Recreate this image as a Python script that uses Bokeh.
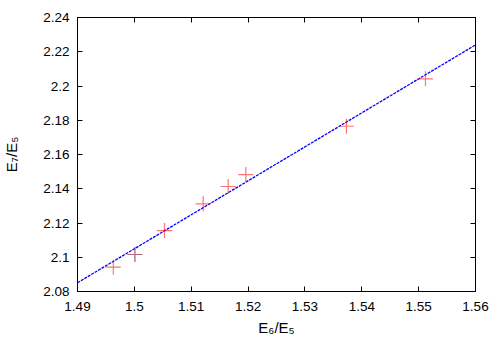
from bokeh.plotting import figure
from bokeh.models import LinearAxis, FixedTicker, Range1d
from bokeh.embed import file_html
from bokeh.resources import INLINE

# data
ratio65 = [1.4963, 1.5001, 1.5053, 1.5121, 1.5165, 1.5196, 1.5373, 1.5512]
ratio75 = [2.0942, 2.1016, 2.1156, 2.1312, 2.1413, 2.1483, 2.1765, 2.2042]
extra_x = [1.5001]
extra_y = [2.1016]
fit_x = [1.49, 1.56]
fit_y = [2.0851, 2.2240]

x_ticks = [1.49, 1.50, 1.51, 1.52, 1.53, 1.54, 1.55, 1.56]
x_tick_labels = ["1.49", "1.5", "1.51", "1.52", "1.53", "1.54", "1.55", "1.56"]
y_ticks = [2.08, 2.10, 2.12, 2.14, 2.16, 2.18, 2.20, 2.22, 2.24]
y_tick_labels = ["2.08", "2.1", "2.12", "2.14", "2.16", "2.18", "2.2", "2.22", "2.24"]

FONT = "Liberation Sans"

p = figure(
    output_backend="svg", toolbar_location=None,
    frame_width=398, frame_height=274,
    min_border_left=76, min_border_right=24, min_border_top=17, min_border_bottom=57,
    x_range=Range1d(1.49, 1.56), y_range=Range1d(2.08, 2.24),
    x_axis_label="E₆/E₅", y_axis_label="E₇/E₅",
)
p.grid.visible = False
p.outline_line_color = "black"
p.outline_line_width = 1
p.background_fill_color = "white"
p.border_fill_color = "white"

for ax, ticks, labels in ((p.xaxis[0], x_ticks, x_tick_labels), (p.yaxis[0], y_ticks, y_tick_labels)):
    ax.ticker = FixedTicker(ticks=ticks)
    ax.major_label_overrides = {t: l for t, l in zip(ticks, labels)}
    ax.major_tick_in = 5
    ax.major_tick_out = 0
    ax.minor_tick_line_color = None
    ax.major_label_text_font = FONT
    ax.major_label_text_font_size = "13.5px"
    ax.major_label_text_color = "black"
    ax.axis_label_text_font = FONT
    ax.axis_label_text_font_size = "15px"
    ax.axis_label_text_font_style = "normal"
    ax.axis_label_text_color = "black"
    ax.axis_line_color = "black"
    ax.major_tick_line_color = "black"

p.xaxis[0].major_label_standoff = 10
p.xaxis[0].axis_label_standoff = 5
p.yaxis[0].major_label_standoff = 8
p.yaxis[0].axis_label_standoff = 20

top = LinearAxis(ticker=FixedTicker(ticks=x_ticks), major_tick_in=5, major_tick_out=0,
                 minor_tick_line_color=None, major_label_text_font_size="0px",
                 major_label_text_color=None)
right = LinearAxis(ticker=FixedTicker(ticks=y_ticks), major_tick_in=5, major_tick_out=0,
                   minor_tick_line_color=None, major_label_text_font_size="0px",
                   major_label_text_color=None)
p.add_layout(top, "above")
p.add_layout(right, "right")

p.line(fit_x, fit_y, line_color="#0000ff", line_width=1.3, line_dash="3 1")
p.scatter(ratio65, ratio75, marker="cross", size=15, line_color="#ff0000",
          line_alpha=0.55, line_width=1.2)
p.scatter(extra_x, extra_y, marker="cross", size=15, line_color="#3050a0",
          line_alpha=0.35, line_width=1.2)

open("out.html", "w").write(file_html(p, INLINE))
